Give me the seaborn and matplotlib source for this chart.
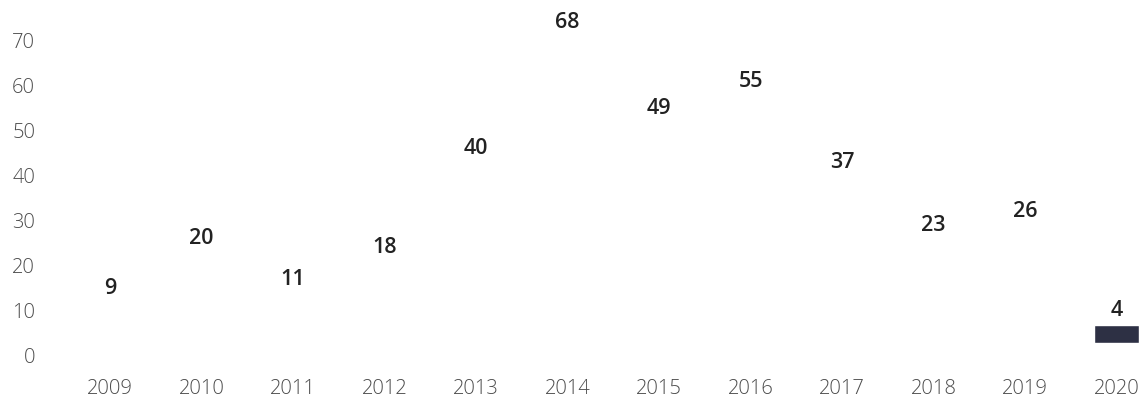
import matplotlib
matplotlib.use("Agg")
import matplotlib.pyplot as plt
import matplotlib.transforms as mtransforms
import seaborn as sns
import pandas as pd

years = ["2009", "2010", "2011", "2012", "2013", "2014",
         "2015", "2016", "2017", "2018", "2019", "2020"]
counts = [9, 20, 11, 18, 40, 68, 49, 55, 37, 23, 26, 4]
y_ticks = [0, 10, 20, 30, 40, 50, 60, 70]

# Only the latest year is shaded; the earlier bars blend into the background.
bar_colors = ["#ffffff"] * (len(years) - 1) + ["#2d3044"]

df = pd.DataFrame({"year": years, "count": counts})

sns.set_theme(style="white")
plt.rcParams["font.family"] = ["Open Sans", "DejaVu Sans"]

fig = plt.figure(figsize=(11.45, 3.98), dpi=100)
ax = fig.add_axes([0.0561, 0.1394, 1 - 0.0561, 0.848])

sns.barplot(data=df, x="year", y="count", hue="year", palette=bar_colors,
            width=0.49, legend=False, ax=ax, saturation=1)

for i, v in enumerate(counts):
    ax.annotate(str(v), xy=(i, v), xytext=(0, 10), textcoords="offset points",
                ha="center", va="center", fontsize=15.5, fontweight="semibold",
                color="#222222")

ax.set_xlim(-0.5, 11.31)
ax.set_ylim(0, 75)
ax.set_yticks(y_ticks)
ax.set_xlabel("")
ax.set_ylabel("")
sns.despine(ax=ax, left=True, bottom=True)
ax.grid(False)

ax.tick_params(axis="y", length=0, pad=21, labelsize=14.5, labelcolor="#4c4c4c")
ax.tick_params(axis="x", length=0, pad=26, labelsize=14.5, labelcolor="#4c4c4c")
for lbl in ax.get_xticklabels() + ax.get_yticklabels():
    lbl.set_fontweight("light")

shift = mtransforms.ScaledTranslation(0, -12.5 / 100, fig.dpi_scale_trans)
for lbl in ax.get_yticklabels():
    lbl.set_transform(lbl.get_transform() + shift)

fig.savefig("out.png", dpi=100, facecolor="white")
